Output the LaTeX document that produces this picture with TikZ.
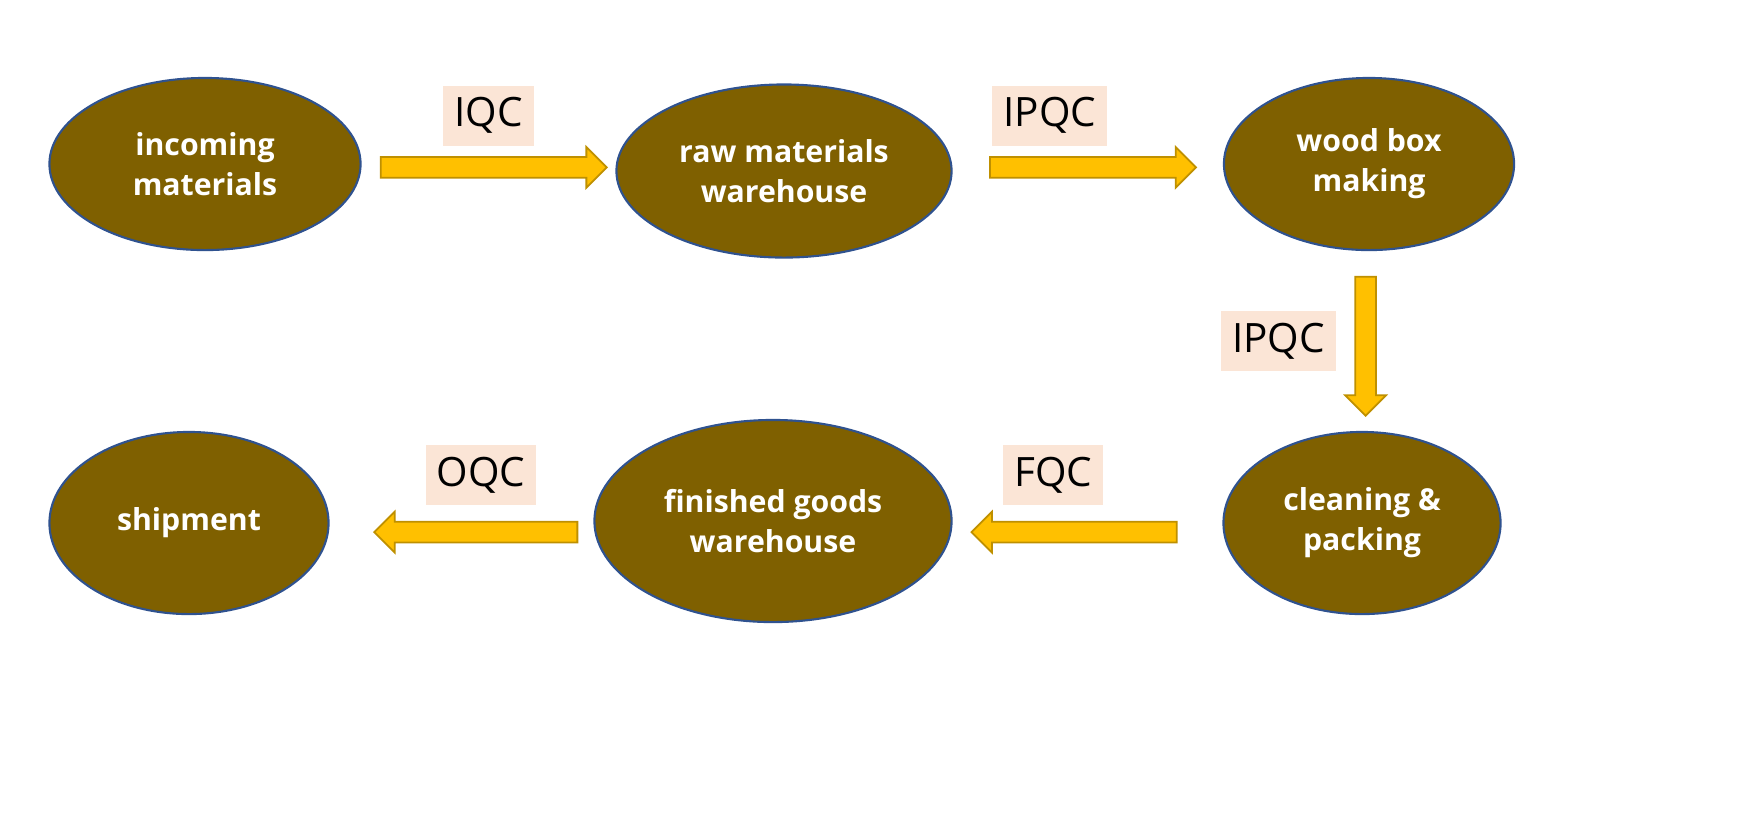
\documentclass[tikz,border=0pt]{standalone}
\usepackage{fontspec}
\setmainfont{Open Sans}
\usetikzlibrary{positioning,shapes.geometric,shapes.arrows}

\definecolor{stagefill}{HTML}{7F6000}
\definecolor{stageline}{HTML}{2F528F}
\definecolor{flowfill}{HTML}{FFC000}
\definecolor{flowline}{HTML}{BF9000}
\definecolor{checkfill}{HTML}{FBE5D6}

\begin{document}
\begin{tikzpicture}[x=0.01cm, y=-0.01cm,
    stage/.style={ellipse, draw=stageline, line width=0.6pt, fill=stagefill,
      inner sep=0pt, text=white, align=center,
      font=\fontsize{8.6}{11.4}\selectfont\bfseries},
    flow/.style={single arrow, draw=flowline, line width=0.5pt, fill=flowfill,
      inner sep=0.095cm, single arrow head extend=0.1cm},
    check/.style={fill=checkfill, minimum height=0.6cm, inner xsep=0.11cm,
      font=\fontsize{11.5}{13}\selectfont}]
    \useasboundingbox (0,0) rectangle (1749,838);

    % stages
    \node [stage, minimum width=3.11cm, minimum height=1.72cm] (incoming) at (205,164) {incoming\\materials};
    \node [stage, minimum width=3.35cm, minimum height=1.73cm] (raw) at (784,171) {raw materials\\warehouse};
    \node [stage, minimum width=2.90cm, minimum height=1.72cm] (wood) at (1369,164) {wood box\\making};
    \node [stage, minimum width=2.77cm, minimum height=1.82cm] (packing) at (1362,523) {cleaning \&\\packing};
    \node [stage, minimum width=3.57cm, minimum height=2.02cm] (finished) at (773,521) {finished goods\\warehouse};
    \node [stage, minimum width=2.79cm, minimum height=1.82cm] (shipment) at (189,523) {shipment};

    % flow arrows
    \path (incoming) -- node [flow, minimum height=2.26cm] (a1) {} (raw);
    \path (raw) -- node [flow, minimum height=2.06cm] (a2) {} (wood);
    \path (wood) -- node [flow, minimum height=1.39cm, rotate=-90] (a3) {} (packing);
    \path ([yshift=-0.1cm]packing.center) -- node [pos=0.48, flow, minimum height=2.05cm, rotate=180] (a4) {} ([yshift=-0.1cm]finished.center);
    \path ([yshift=-0.1cm]finished.center) -- node [flow, minimum height=2.03cm, rotate=180] (a5) {} ([yshift=-0.1cm]shipment.center);

    % checks
    \node [check, above=0.21cm of a1.center] (q1) {IQC};
    \node [check, above=0.21cm of a2.center, xshift=-0.38cm] (q2) {IPQC};
    \node [check, left=0.29cm of a3.center] (q3) {IPQC};
    \node [check, above=0.26cm of a4.center, xshift=-0.26cm] (q4) {FQC};
    \node [check, above=0.26cm of a5.center] (q5) {OQC};
\end{tikzpicture}
\end{document}
